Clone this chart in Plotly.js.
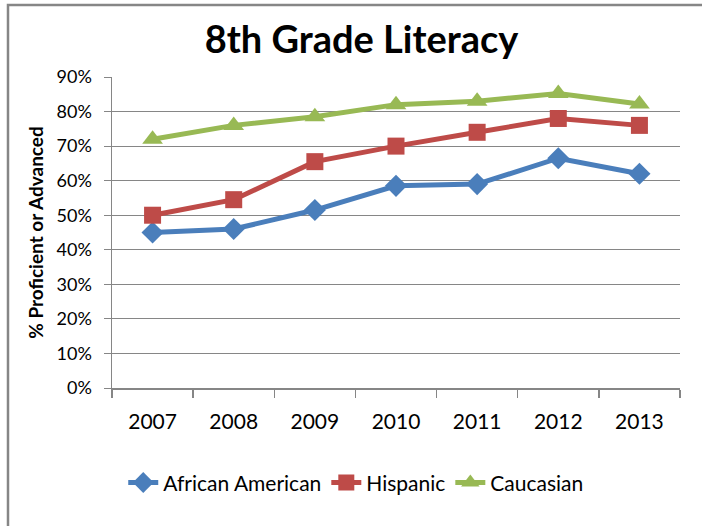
<!DOCTYPE html>
<html>
<head>
<meta charset="utf-8">
<script src="https://cdn.plot.ly/plotly-3.0.1.min.js"></script>
<style>
html,body{margin:0;padding:0;background:#fff;}
#chart{width:702px;height:526px;}
</style>
</head>
<body>
<div id="chart"></div>
<script>
const years = ["2007","2008","2009","2010","2011","2012","2013"];
const africanAmerican = [0.45, 0.46, 0.515, 0.585, 0.59, 0.665, 0.62];
const hispanic = [0.50, 0.545, 0.655, 0.70, 0.74, 0.78, 0.76];
const caucasian = [0.72, 0.76, 0.785, 0.82, 0.83, 0.852, 0.822];
const yTicks = [0,0.1,0.2,0.3,0.4,0.5,0.6,0.7,0.8,0.9];

const font = "Lato, 'Open Sans', sans-serif";
const traces = [
  {name:"African American", x:years, y:africanAmerican, type:"scatter", mode:"lines+markers",
   line:{color:"#4A7EBB", width:5}, marker:{symbol:"diamond", size:17, color:"#4A7EBB"}},
  {name:"Hispanic", x:years, y:hispanic, type:"scatter", mode:"lines+markers",
   line:{color:"#BE4B48", width:5}, marker:{symbol:"square", size:17, color:"#BE4B48"}},
  {name:"Caucasian", x:years, y:caucasian, type:"scatter", mode:"lines+markers",
   line:{color:"#98B954", width:5}, marker:{symbol:"triangle-up", size:18, color:"#98B954"}}
];
const layout = {
  width:702, height:526,
  margin:{l:112, r:22, t:77, b:138},
  paper_bgcolor:"#fff", plot_bgcolor:"#fff",
  font:{family:font, color:"#000"},
  title:{text:"<b>8th Grade Literacy</b>", font:{size:38, family:font, color:"#000"}, x:0.515, xanchor:"center", y:0.925, yanchor:"middle"},
  xaxis:{type:"category", range:[-0.5,6.5], showgrid:false, showline:true, linecolor:"#868686", linewidth:1.5,
    ticks:"outside", tickson:"boundaries", ticklen:8, tickcolor:"#868686", tickwidth:1.5,
    tickfont:{size:21, family:font}, ticklabelstandoff:14, zeroline:false, fixedrange:true},
  yaxis:{range:[0,0.9], tickvals:yTicks, tickformat:".0%", showgrid:true, gridcolor:"#868686", gridwidth:1,
    showline:true, linecolor:"#868686", linewidth:1.5, ticks:"outside", ticklen:7, tickcolor:"#868686",
    tickfont:{size:18, family:font}, ticklabelstandoff:8, zeroline:false,
    title:{text:"<b>% Proficient or Advanced</b>", font:{size:19, family:font}, standoff:8}},
  showlegend:true,
  legend:{orientation:"h", x:0.43, xanchor:"center", y:-0.305, yanchor:"middle", font:{size:21, family:font}, tracegroupgap:0},
  shapes:[{type:"rect", xref:"paper", yref:"paper", x0:-0.1831, x1:1.08, y0:-0.6, y1:1.2315,
    line:{color:"#868686", width:2.5}, fillcolor:"rgba(0,0,0,0)", layer:"below"}]
};
Plotly.newPlot("chart", traces, layout, {displayModeBar:false, staticPlot:true});
</script>
</body>
</html>
